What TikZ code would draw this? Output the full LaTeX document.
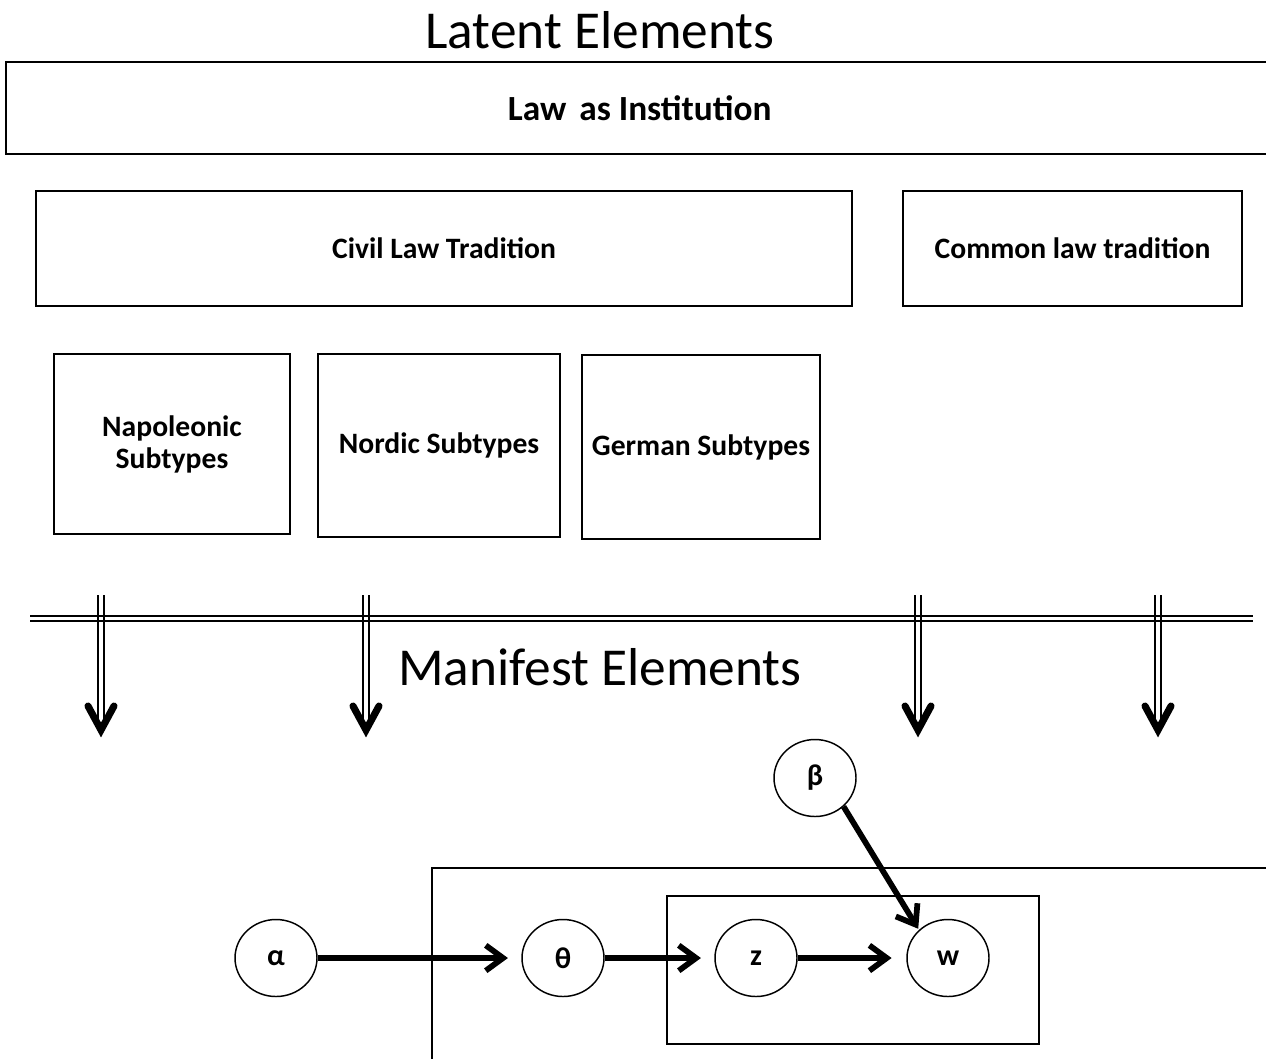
\documentclass[tikz,border=0pt]{standalone}
\usepackage{fontspec}
\setmainfont{Carlito}
\usetikzlibrary{arrows.meta,shapes.geometric}
\begin{document}
\begin{tikzpicture}[x=0.75pt,y=-0.75pt,
  box/.style={draw, line width=1.4pt, inner sep=0pt, align=center,
    font=\bfseries\fontsize{22.2}{24}\selectfont},
  var/.style={draw, ellipse, line width=1.1pt, inner sep=0pt,
    minimum width=61.5pt, minimum height=57.75pt,
    font=\bfseries\fontsize{22.5}{26}\selectfont},
  link/.style={line width=4.3pt, -{Straight Barb[length=13pt,width=19pt]}},
  rail/.style={line width=1.5pt},
  chev/.style={line width=5.3pt, line cap=round, line join=miter},
  plate/.style={draw, line width=1.2pt},
  title/.style={font=\fontsize{40}{48}\selectfont, inner sep=0pt}]
\useasboundingbox (0,0) rectangle (1266,1058);
\clip (0,0) rectangle (1266,1058);

\node[title] (latent) at (600,30) {Latent Elements};
\node[title] (manifest) at (600,667) {Manifest Elements};

\node[box, minimum width=946.5pt, minimum height=69pt,
  font=\bfseries\fontsize{26.5}{30}\selectfont] (law) at (637,108) {\hspace{4pt}Law\kern3.75pt{} as Institution};
\node[box, minimum width=612pt, minimum height=86.25pt] (civil) at (444,248.5) {Civil Law Tradition};
\node[box, minimum width=254.25pt, minimum height=86.25pt] (common) at (1072.5,248.5) {Common law tradition};
\node[box, minimum width=177pt, minimum height=135pt] (napo) at (172,444) {Napoleonic\\Subtypes};
\node[box, minimum width=181.5pt, minimum height=137.25pt] (nordic) at (439,445.5) {Nordic Subtypes};
\node[box, minimum width=178.5pt, minimum height=138pt] (german) at (701,447) {German Subtypes};

% double separator line
\coordinate (hl) at (30,618.5);
\coordinate (hr) at (1253,618.5);
\draw[rail] ([yshift=1.9pt]hl) -- ([yshift=1.9pt]hr);
\draw[rail] ([yshift=-1.9pt]hl) -- ([yshift=-1.9pt]hr);

% double down arrows
\foreach \n/\x in {a/101, b/366, c/918, d/1158} {
  \coordinate (\n top) at (\x,595);
  \coordinate (\n tip) at (\x,730);
  \draw[rail] ([xshift=-1.9pt]\n top) -- ([xshift=-1.9pt,yshift=3pt]\n tip);
  \draw[rail] ([xshift=1.9pt]\n top) -- ([xshift=1.9pt,yshift=3pt]\n tip);
  \draw[chev] ([shift={(-13,-24)}]\n tip) -- (\n tip) -- ([shift={(13,-24)}]\n tip);
}

% plates
\coordinate (pl) at (432,1075);
\coordinate (pr) at (1280,868);
\draw[line width=1.2pt] (pl) |- (pr);
\node[plate, minimum width=279pt, minimum height=111pt] (inner) at (853,970) {};

% variables
\node[var] (alpha) at (276,958) {α};
\node[var] (theta) at (563,958) {θ};
\node[var] (z) at (756,958) {z};
\node[var] (w) at (948,958) {w};
\node[var] (beta) at (815,778) {β};

\draw[link, shorten >=10pt] (alpha) -- (theta);
\draw[link, shorten >=10pt] (theta) -- (z);
\draw[link, shorten >=11pt] (z) -- (w);
\draw[link, shorten >=1pt] (beta.-45) -- (w.136);
\end{tikzpicture}
\end{document}
